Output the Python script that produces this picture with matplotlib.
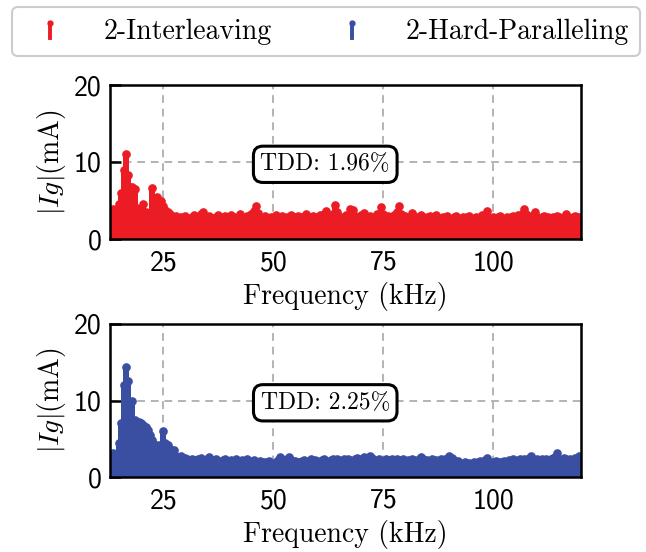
import numpy as np
import matplotlib
matplotlib.use('Agg')
import matplotlib.pyplot as plt
from matplotlib.lines import Line2D
from matplotlib.legend_handler import HandlerBase

plt.rcParams['mathtext.fontset'] = 'cm'
plt.rcParams['axes.unicode_minus'] = False

# Frequency bins (kHz)
freq = np.arange(13.0, 120.01, 0.5)

# |Ig| (mA), 2-Interleaving
interleaving = [
    3.0, 3.9, 3.4, 2.8, 4.5, 6.0, 9.0, 11.0, 8.3, 6.8,
    6.7, 6.5, 4.0, 3.5, 3.8, 4.6, 3.5, 3.2, 3.4, 6.6,
    3.8, 5.4, 3.9, 4.9, 4.3, 3.8, 3.5, 3.2, 3.0, 2.8,
    3.0, 2.7, 2.9, 2.6, 3.0, 2.7, 2.5, 2.9, 3.1, 2.6,
    2.8, 3.2, 3.5, 2.9, 2.6, 3.0, 2.7, 2.4, 2.9, 3.1,
    2.6, 2.8, 3.0, 2.5, 2.7, 3.1, 2.8, 2.4, 2.9, 3.2,
    2.7, 2.5, 3.0, 2.8, 3.3, 3.6, 4.25, 3.4, 2.9, 2.6,
    3.0, 2.7, 2.5, 2.9, 2.6, 3.1, 2.4, 2.8, 3.0, 2.6,
    2.9, 2.7, 3.1, 2.5, 2.8, 3.0, 2.6, 2.9, 2.7, 3.2,
    2.8, 2.5, 3.0, 2.7, 2.9, 3.1, 2.8, 3.3, 3.6, 3.0,
    2.8, 3.2, 4.4, 3.5, 3.0, 2.7, 2.9, 3.1, 2.8, 3.9,
    3.8, 3.0, 2.7, 2.9, 3.1, 3.4, 2.8, 2.6, 3.0, 2.7,
    2.9, 3.2, 2.8, 4.1, 3.3, 2.7, 3.0, 2.8, 2.6, 3.1,
    3.5, 4.3, 3.2, 2.8, 3.0, 2.7, 2.9, 3.4, 3.0, 2.6,
    2.8, 3.1, 2.7, 2.5, 2.9, 3.0, 2.6, 2.8, 3.1, 2.7,
    2.5, 2.9, 2.7, 3.0, 2.6, 2.4, 2.8, 3.0, 2.7, 2.5,
    2.9, 2.6, 2.8, 3.0, 2.7, 2.5, 2.9, 2.6, 2.8, 3.1,
    3.0, 3.6, 2.7, 2.4, 2.8, 2.6, 2.9, 3.0, 2.7, 2.5,
    2.9, 2.6, 2.8, 3.0, 2.7, 3.1, 2.9, 3.3, 3.9, 3.2,
    2.8, 3.0, 2.9, 3.5, 2.9, 2.6, 2.8, 3.0, 2.7, 2.9,
    2.6, 2.8, 2.7, 3.0, 2.8, 2.6, 2.9, 3.2, 2.8, 2.6,
    2.8, 3.0, 2.7, 2.9, 2.6,
]

# |Ig| (mA), 2-Hard-Paralleling
hard_paralleling = [
    3.0, 3.2, 2.6, 2.2, 4.5, 7.0, 12.0, 14.4, 12.5, 8.5,
    10.0, 7.5, 7.0, 7.2, 7.0, 6.8, 6.5, 6.2, 5.5, 4.8,
    4.3, 3.7, 4.2, 3.5, 6.0, 4.5, 4.2, 3.6, 3.3, 3.5,
    2.8, 2.5, 2.7, 2.4, 2.5, 2.3, 2.1, 2.4, 2.2, 2.0,
    2.3, 2.5, 2.2, 2.0, 2.4, 2.6, 2.2, 2.0, 2.3, 2.1,
    2.0, 2.2, 2.4, 2.1, 1.9, 2.2, 2.0, 2.3, 2.1, 1.9,
    2.2, 2.0, 2.3, 2.1, 1.9, 2.2, 2.0, 1.8, 2.1, 1.9,
    2.0, 1.8, 2.1, 1.6, 1.5, 1.9, 2.2, 2.6, 2.3, 2.0,
    2.4, 2.6, 2.2, 2.0, 2.1, 2.0, 1.9, 2.1, 2.2, 2.0,
    2.1, 2.3, 2.0, 2.2, 2.1, 2.0, 2.2, 2.3, 2.1, 2.0,
    2.2, 2.4, 2.1, 2.3, 2.2, 2.0, 2.3, 2.1, 2.4, 2.2,
    2.0, 2.3, 2.5, 2.2, 2.4, 2.6, 2.3, 2.1, 2.8, 2.5,
    2.2, 2.0, 2.3, 1.9, 2.1, 2.4, 2.2, 2.0, 2.3, 2.1,
    2.4, 2.2, 2.0, 2.3, 2.1, 2.2, 2.0, 2.4, 2.2, 2.1,
    2.3, 2.6, 2.4, 2.1, 2.2, 2.0, 2.3, 2.1, 2.2, 2.0,
    2.3, 2.1, 2.4, 2.2, 2.8, 2.5, 2.2, 2.0, 2.1, 1.8,
    1.7, 1.9, 1.6, 1.8, 1.7, 2.0, 1.8, 1.9, 2.1, 1.9,
    2.2, 2.5, 2.0, 1.8, 1.9, 2.1, 1.8, 2.0, 1.9, 2.1,
    2.0, 2.2, 2.1, 2.3, 2.0, 2.2, 2.4, 2.1, 2.3, 2.2,
    2.5, 2.8, 2.3, 2.1, 2.4, 2.2, 2.3, 2.1, 2.4, 2.2,
    2.3, 2.5, 2.6, 3.2, 2.4, 2.2, 2.5, 2.3, 2.1, 2.4,
    2.2, 2.5, 2.3, 2.7, 2.4,
]

series_names = ['2-Interleaving', '2-Hard-Paralleling']
series_colors = ['#EC1C24', '#3A4EA2']
tdd_labels = ['TDD: 1.96%', 'TDD: 2.25%']
x_ticks = [25, 50, 75, 100]
y_ticks = [0, 10, 20]

FS = 20

fig = plt.figure(figsize=(6.46, 5.52), dpi=100)
ax_top = fig.add_axes([110/646, 1-239/552, 471/646, 154/552])
ax_bot = fig.add_axes([110/646, 1-477/552, 471/646, 153/552])

for ax, vals, col, tdd in zip([ax_top, ax_bot], [interleaving, hard_paralleling],
                              series_colors, tdd_labels):
    ml, sl, bl = ax.stem(freq, vals, basefmt=' ')
    sl.set_color(col)
    sl.set_linewidth(3.2)
    sl.set_antialiased(False)
    ml.set_color(col)
    ml.set_markersize(5.2)
    bl.set_visible(False)
    ax.set_xlim(12.9, 119.9)
    ax.set_ylim(0, 20)
    ax.set_xticks(x_ticks)
    ax.set_yticks(y_ticks)
    ax.grid(True, linestyle=(0, (4, 3)), color='#b3b3b3', linewidth=1.4)
    ax.set_axisbelow(True)
    for s in ax.spines.values():
        s.set_linewidth(1.8)
    ax.tick_params(axis='y', direction='in', length=8, width=1.8, labelsize=FS, pad=6)
    ax.tick_params(axis='x', length=0, labelsize=FS, pad=8)
    for lbl in ax.get_xticklabels() + ax.get_yticklabels():
        lbl.set_fontfamily('cmss10')
    ax.set_xlabel('Frequency (kHz)', fontfamily='cmr10', fontsize=FS, labelpad=5)
    ax.set_ylabel(r'$|Ig|$(mA)', fontfamily='cmr10', fontsize=FS, labelpad=4)
    ax.text(0.457, 0.485, tdd, transform=ax.transAxes, ha='center', va='center',
            fontfamily='cmr10', fontsize=17, zorder=5,
            bbox=dict(boxstyle='round,pad=0.3,rounding_size=0.4', fc='white',
                      ec='black', lw=2.2))


class StemHandler(HandlerBase):
    def create_artists(self, legend, orig_handle, xdescent, ydescent, width,
                       height, fontsize, trans):
        cx = width * 0.4 - xdescent
        y0 = -ydescent + 0.05 * height
        y1 = -ydescent + 0.8 * height
        col = orig_handle.get_color()
        ln = Line2D([cx, cx], [y0, y1], color=col, lw=2.8, transform=trans)
        mk = Line2D([cx], [y1], marker='o', ms=3.5, color=col, transform=trans)
        return [ln, mk]


handles = [Line2D([], [], color=c) for c in series_colors]
leg = fig.legend(handles, series_names, loc='lower left',
                 bbox_to_anchor=(12/646, 1-56/552, 628/646, 48/552),
                 mode='expand', ncol=2, handler_map={Line2D: StemHandler()},
                 prop={'family': 'cmr10', 'size': FS}, handlelength=2.4,
                 handletextpad=0.5, borderaxespad=0, fancybox=True,
                 edgecolor='#cccccc', framealpha=1)
leg.get_frame().set_linewidth(1.5)

fig.savefig('out.png', dpi=100)
